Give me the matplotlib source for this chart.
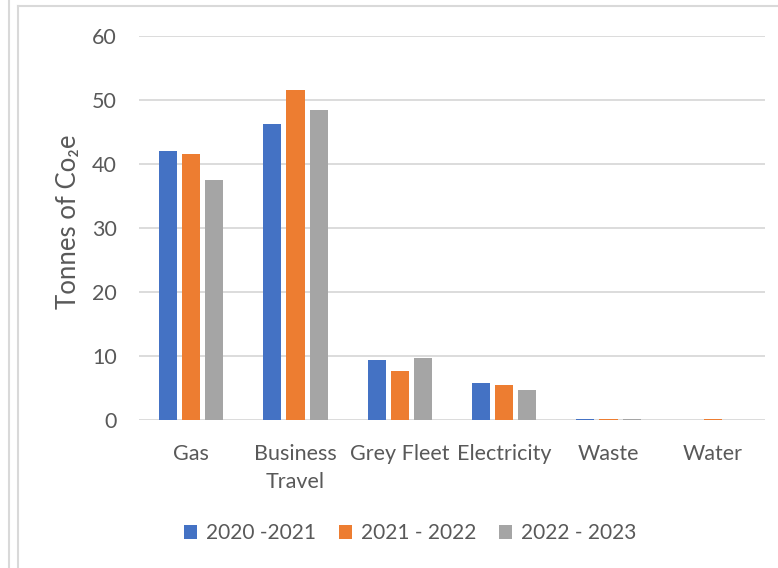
"""
Carbon emissions by source, three reporting years
"""
import numpy as np
import matplotlib.pyplot as plt
from matplotlib.lines import Line2D

################################################################################
#
# data
categories = ['Gas', 'Business\nTravel', 'Grey Fleet', 'Electricity', 'Waste', 'Water']
series_names = ['2020 -2021', '2021 - 2022', '2022 - 2023']
y2020_21 = [42.1, 46.3, 9.4, 5.8, 0.2, 0.0]
y2021_22 = [41.5, 51.6, 7.6, 5.4, 0.15, 0.1]
y2022_23 = [37.5, 48.5, 9.7, 4.7, 0.15, 0.0]
yticks = [0, 10, 20, 30, 40, 50, 60]

colors = ['#4472C4', '#ED7D31', '#A5A5A5']
text_col = '#595959'
grid_col = '#D9D9D9'

plt.rcParams['font.family'] = ['Lato', 'DejaVu Sans']

################################################################################
#
# create plot
W, H = 778, 568
fig = plt.figure(figsize=(W / 100, H / 100), dpi=100)
ax = fig.add_axes([139 / W, 1 - 420 / H, (765 - 139) / W, 384 / H])

x = np.arange(len(categories))
width = 0.173
step = 0.221
for i, (vals, name) in enumerate(zip([y2020_21, y2021_22, y2022_23], series_names)):
    ax.bar(x + (i - 1) * step, vals, width, color=colors[i], label=name, zorder=3)

ax.set_xlim(-0.5, len(categories) - 0.5)
ax.set_ylim(0, 60)
ax.set_yticks(yticks)
ax.set_xticks(x)
ax.set_xticklabels(categories, linespacing=1.5)
ax.grid(axis='y', color=grid_col, linewidth=1.3, zorder=0)
for s in ax.spines.values():
    s.set_visible(False)
ax.tick_params(axis='both', length=0, labelsize=15.5, colors=text_col)
ax.tick_params(axis='y', pad=16)
ax.tick_params(axis='x', pad=17)

ax.set_ylabel('Tonnes of Co₂e', fontsize=18.5, color=text_col)
ax.yaxis.set_label_coords(-0.093, 0.515)

fig.legend(loc='center', bbox_to_anchor=(410 / W, 1 - 533 / H), ncol=3,
           frameon=False, fontsize=15, labelcolor=text_col,
           handlelength=0.65, handleheight=0.65, handletextpad=0.4,
           columnspacing=1.1)

# chart frame lines
for line in [((9, 9), (0, H)), ((18, 18), (6, H)), ((18, W), (6, 6))]:
    fig.add_artist(Line2D([p / W for p in line[0]], [1 - p / H for p in line[1]],
                          color=grid_col, linewidth=1.5))

fig.savefig('out.png', dpi=100)
